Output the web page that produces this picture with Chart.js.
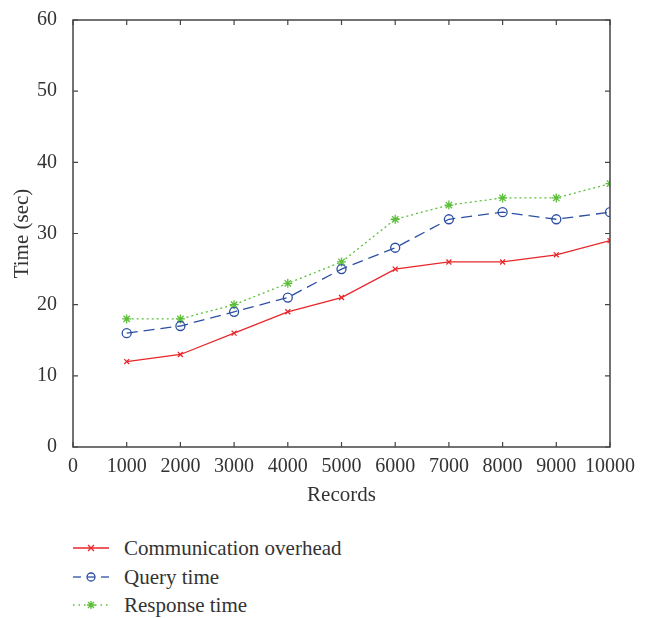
<!DOCTYPE html>
<html>
<head>
<meta charset="utf-8">
<script src="https://cdn.jsdelivr.net/npm/chart.js@4.4.0/dist/chart.umd.min.js"></script>
<style>
  body { margin: 0; background: #fff; font-family: "Liberation Serif", serif; }
  #wrap { position: relative; width: 651px; height: 618px; }
  #box { position: absolute; left: 0; top: 0; width: 651px; height: 520px; }
  .leg { position: absolute; left: 73px; height: 24px; display: flex; align-items: center; font-size: 21px; color: #333; }
  .leg svg { margin-right: 15px; }
</style>
</head>
<body>
<div id="wrap">
  <div id="box"><canvas id="chart"></canvas></div>
  <div class="leg" style="top:536px">
    <svg width="36" height="12"><line x1="0" y1="6" x2="36" y2="6" stroke="#e8262a" stroke-width="1.3"/><path d="M15 3 L21 9 M21 3 L15 9" stroke="#e8262a" stroke-width="1.3"/></svg>Communication overhead
  </div>
  <div class="leg" style="top:565px">
    <svg width="36" height="12"><line x1="0" y1="6" x2="8" y2="6" stroke="#2c4fa3" stroke-width="1.3"/><line x1="28" y1="6" x2="36" y2="6" stroke="#2c4fa3" stroke-width="1.3"/><circle cx="18" cy="6" r="4" fill="none" stroke="#2c4fa3" stroke-width="1.3"/><line x1="14" y1="6" x2="22" y2="6" stroke="#2c4fa3" stroke-width="1.3"/></svg>Query time
  </div>
  <div class="leg" style="top:593px">
    <svg width="36" height="12"><line x1="0" y1="6" x2="36" y2="6" stroke="#5cbf3a" stroke-width="1.3" stroke-dasharray="1.5 4"/><path d="M14 6 L22 6 M18 2 L18 10 M15 3 L21 9 M21 3 L15 9" stroke="#5cbf3a" stroke-width="1.3"/></svg>Response time
  </div>
</div>
<script>
const records = [1000, 2000, 3000, 4000, 5000, 6000, 7000, 8000, 9000, 10000];
const commOverhead = [12, 13, 16, 19, 21, 25, 26, 26, 27, 29];
const queryTime = [16, 17, 19, 21, 25, 28, 32, 33, 32, 33];
const responseTime = [18, 18, 20, 23, 26, 32, 34, 35, 35, 37];

function toPoints(values) {
    return records.map(function(r, i) { return { x: r, y: values[i] }; });
}

// frame with inward ticks on all four sides
const framePlugin = {
    id: 'frame',
    afterDraw: function(chart) {
        const ctx = chart.ctx;
        const a = chart.chartArea;
        const xs = chart.scales.x, ys = chart.scales.y;
        ctx.save();
        ctx.strokeStyle = '#444';
        ctx.lineWidth = 1.5;
        ctx.strokeRect(a.left, a.top, a.right - a.left, a.bottom - a.top);
        ctx.lineWidth = 1.2;
        ctx.beginPath();
        xs.ticks.forEach(function(t) {
            const px = xs.getPixelForValue(t.value);
            ctx.moveTo(px, a.bottom); ctx.lineTo(px, a.bottom - 5);
            ctx.moveTo(px, a.top); ctx.lineTo(px, a.top + 5);
        });
        ys.ticks.forEach(function(t) {
            const py = ys.getPixelForValue(t.value);
            ctx.moveTo(a.left, py); ctx.lineTo(a.left + 5, py);
            ctx.moveTo(a.right, py); ctx.lineTo(a.right - 5, py);
        });
        ctx.stroke();
        ctx.restore();
    }
};

const font = { family: 'Liberation Serif', size: 20 };
const titleFont = { family: 'Liberation Serif', size: 21 };

const ctx = document.getElementById('chart').getContext('2d');
new Chart(ctx, {
    type: 'line',
    data: {
        datasets: [
            { label: 'Communication overhead', data: toPoints(commOverhead), borderColor: '#e8262a', backgroundColor: '#e8262a', borderWidth: 1.3, pointStyle: 'crossRot', pointRadius: 3.5, pointBorderWidth: 1.3 },
            { label: 'Query time', data: toPoints(queryTime), borderColor: '#2c4fa3', backgroundColor: 'rgba(0,0,0,0)', borderWidth: 1.3, borderDash: [11, 6], pointStyle: 'circle', pointRadius: 4.5, pointBorderWidth: 1.3 },
            { label: 'Response time', data: toPoints(responseTime), borderColor: '#5cbf3a', backgroundColor: '#5cbf3a', borderWidth: 1.3, borderDash: [2, 3], pointStyle: 'star', pointRadius: 4.5, pointBorderWidth: 1.3 }
        ]
    },
    options: {
        responsive: true,
        maintainAspectRatio: false,
        animation: false,
        layout: { padding: { left: 0, top: 16, right: 41, bottom: 0 } },
        plugins: { legend: { display: false }, tooltip: { enabled: false } },
        scales: {
            x: {
                type: 'linear', min: 0, max: 10000,
                ticks: { stepSize: 1000, padding: 0, maxRotation: 0, minRotation: 0, autoSkip: false, color: '#333', font: font,
                    callback: function(v) { return String(v); } },
                grid: { display: false }, border: { display: false },
                title: { display: true, text: 'Records', color: '#333', font: titleFont, padding: { top: 4, bottom: 12 } },
                afterFit: function(s) { s.height = 73; }
            },
            y: {
                min: 0, max: 60,
                ticks: { stepSize: 10, padding: 8, color: '#333', font: font },
                grid: { display: false }, border: { display: false },
                title: { display: true, text: 'Time (sec)', color: '#333', font: titleFont, padding: { top: 10, bottom: 10 } },
                afterFit: function(s) { s.width = 73; }
            }
        }
    },
    plugins: [framePlugin]
});
</script>
</body>
</html>
